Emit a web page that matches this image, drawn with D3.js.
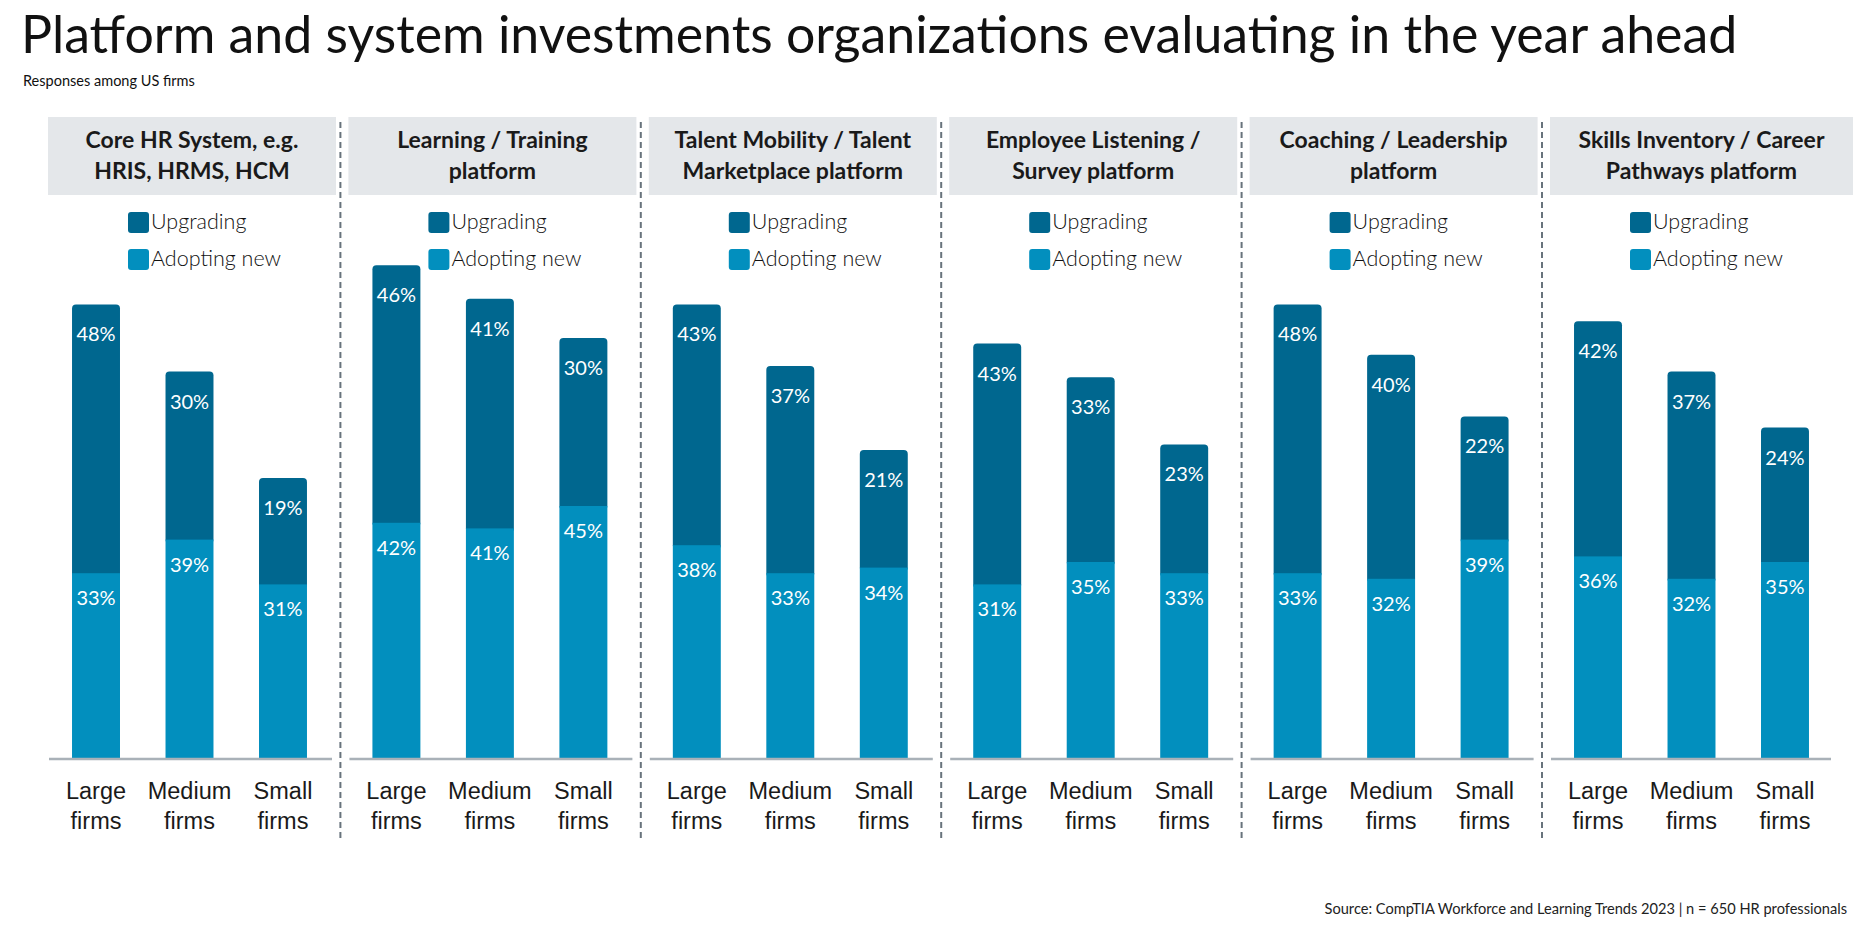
<!DOCTYPE html>
<html>
<head>
<meta charset="utf-8">
<script src="https://cdn.jsdelivr.net/npm/d3@7"></script>
<style>
  html, body { margin: 0; padding: 0; background: #fff; }
  svg { display: block; font-family: Lato, "Open Sans", sans-serif; }
</style>
</head>
<body>
<div id="chart"></div>
<script>
const WIDTH = 1865
const HEIGHT = 931

const TITLE = 'Platform and system investments organizations evaluating in the year ahead'
const SUBTITLE = 'Responses among US firms'
const SOURCE = 'Source: CompTIA Workforce and Learning Trends 2023 | n = 650 HR professionals'

const platforms = [
  ['Core HR System, e.g.', 'HRIS, HRMS, HCM'],
  ['Learning / Training', 'platform'],
  ['Talent Mobility / Talent', 'Marketplace platform'],
  ['Employee Listening /', 'Survey platform'],
  ['Coaching / Leadership', 'platform'],
  ['Skills Inventory / Career', 'Pathways platform'],
]
const firmSizes = [['Large', 'firms'], ['Medium', 'firms'], ['Small', 'firms']]
const seriesNames = ['Upgrading', 'Adopting new']

// per platform: [large, medium, small]
const upgrading = [
  [48, 30, 19],
  [46, 41, 30],
  [43, 37, 21],
  [43, 33, 23],
  [48, 40, 22],
  [42, 37, 24],
]
const adoptingNew = [
  [33, 39, 31],
  [42, 41, 45],
  [38, 33, 34],
  [31, 35, 33],
  [33, 32, 39],
  [36, 32, 35],
]

const COLORS = { 'Upgrading': '#00678f', 'Adopting new': '#028fbe' }

const svg = d3.select('#chart')
  .append('svg')
  .attr('width', WIDTH)
  .attr('height', HEIGHT)

function fitWidth (text, target) {
  const size = parseFloat(text.attr('font-size'))
  const len = text.node().getComputedTextLength()
  text.attr('font-size', size * target / len)
}

// titles
const title = svg.append('text')
  .attr('x', 21).attr('y', 53)
  .attr('font-size', 52)
  .attr('fill', '#111')
  .text(TITLE)
fitWidth(title, 1717)

const subtitle = svg.append('text')
  .attr('x', 23).attr('y', 86)
  .attr('font-size', 13)
  .attr('fill', '#111')
  .text(SUBTITLE)
fitWidth(subtitle, 172)

const source = svg.append('text')
  .attr('x', 1847).attr('y', 914)
  .attr('text-anchor', 'end')
  .attr('font-size', 15)
  .attr('fill', '#222')
  .text(SOURCE)
fitWidth(source, 523)

// scales
const panelX = d3.scaleBand()
  .domain(d3.range(platforms.length))
  .range([48, 48 + 300.4 * platforms.length])

const x = d3.scaleBand()
  .domain(firmSizes.map(d => d[0]))
  .range([0, 283])
  .paddingInner(0.487)
  .paddingOuter(0.257)

const y = d3.scaleLinear()
  .domain([0, 100])
  .range([758, 198])

// dashed separators
svg.selectAll('line.sep')
  .data(d3.range(1, platforms.length))
  .enter()
  .append('line')
  .attr('class', 'sep')
  .attr('x1', d => panelX(d) - 8)
  .attr('x2', d => panelX(d) - 8)
  .attr('y1', 122)
  .attr('y2', 838)
  .attr('stroke', '#68737c')
  .attr('stroke-width', 2)
  .attr('stroke-dasharray', '6,4')

const panels = svg.selectAll('g.panel')
  .data(platforms.map((name, i) => ({
    i,
    name,
    values: firmSizes.map((f, j) => ({
      firm: f[0],
      up: upgrading[i][j],
      adopt: adoptingNew[i][j],
    })),
  })))
  .enter()
  .append('g')
  .attr('class', 'panel')
  .attr('transform', d => `translate(${panelX(d.i)},0)`)

// header boxes
const boxW = d => d.i === platforms.length - 1 ? 303 : 288
panels.append('rect')
  .attr('x', 0)
  .attr('y', 117)
  .attr('width', boxW)
  .attr('height', 78)
  .attr('fill', '#e4e7ea')

panels.append('text')
  .attr('text-anchor', 'middle')
  .attr('font-size', 23)
  .attr('font-weight', 'bold')
  .attr('fill', '#1a1a1a')
  .selectAll('tspan')
  .data(d => d.name.map(line => ({ line, cx: boxW(d) / 2 })))
  .enter()
  .append('tspan')
  .attr('x', d => d.cx)
  .attr('y', (d, k) => 148 + k * 31)
  .text(d => d.line)

// legend
const legend = panels.selectAll('g.legend')
  .data(seriesNames)
  .enter()
  .append('g')
  .attr('class', 'legend')
  .attr('transform', (d, k) => `translate(80,${212 + k * 37})`)

legend.append('rect')
  .attr('width', 21)
  .attr('height', 21)
  .attr('rx', 3)
  .attr('fill', d => COLORS[d])

legend.append('text')
  .attr('x', 23)
  .attr('y', 17)
  .attr('font-size', 21.5)
  .attr('font-weight', 300)
  .attr('fill', '#111')
  .text(d => d)

// bars
const bars = panels.selectAll('g.bar')
  .data(d => d.values)
  .enter()
  .append('g')
  .attr('class', 'bar')
  .attr('transform', d => `translate(${x(d.firm)},0)`)

bars.append('rect')
  .attr('y', d => y(d.adopt + d.up))
  .attr('width', x.bandwidth())
  .attr('height', d => y(d.adopt) - y(d.adopt + d.up) + 4)
  .attr('rx', 4)
  .attr('fill', COLORS['Upgrading'])

bars.append('rect')
  .attr('y', d => y(d.adopt))
  .attr('width', x.bandwidth())
  .attr('height', d => y(0) - y(d.adopt))
  .attr('fill', COLORS['Adopting new'])

bars.append('text')
  .attr('x', x.bandwidth() / 2)
  .attr('y', d => y(d.adopt + d.up) + 37)
  .attr('text-anchor', 'middle')
  .attr('font-size', 20)
  .attr('fill', '#fff')
  .text(d => d.up + '%')

bars.append('text')
  .attr('x', x.bandwidth() / 2)
  .attr('y', d => y(d.adopt) + 32)
  .attr('text-anchor', 'middle')
  .attr('font-size', 20)
  .attr('fill', '#fff')
  .text(d => d.adopt + '%')

// x axis
panels.each(function (d) {
  const g = d3.select(this).append('g')
    .attr('class', 'x-axis')
    .attr('transform', `translate(0,${y(0) + 1})`)
    .call(d3.axisBottom(x).tickSize(0).tickFormat(''))

  g.select('.domain')
    .attr('d', `M1,0H${d.i === platforms.length - 1 ? 281 : 284}`)
    .attr('stroke', '#a9b1b8')
    .attr('stroke-width', 2.5)

  g.selectAll('.tick text').remove()
  g.selectAll('.tick')
    .append('text')
    .attr('text-anchor', 'middle')
    .attr('font-size', 23.5)
    .attr('fill', '#1a1a1a')
    .selectAll('tspan')
    .data(t => firmSizes.find(f => f[0] === t))
    .enter()
    .append('tspan')
    .attr('x', 0)
    .attr('y', (t, k) => 40 + k * 30)
    .text(t => t)
})
</script>
</body>
</html>
